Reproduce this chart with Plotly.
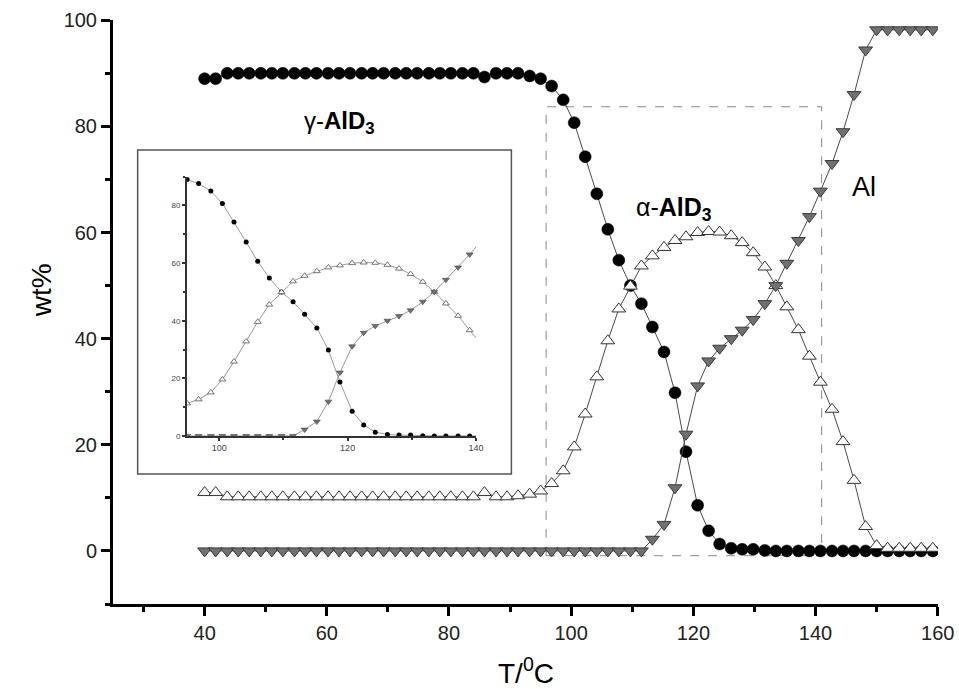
import plotly.graph_objects as go

# ---------------- data ----------------
T = [
    40.0, 41.8, 43.7, 45.5, 47.3, 49.2, 51.0, 52.8, 54.7, 56.5,
    58.3, 60.2, 62.0, 63.8, 65.7, 67.5, 69.3, 71.2, 73.0, 74.8,
    76.7, 78.5, 80.3, 82.2, 84.0, 85.8, 87.7, 89.5, 91.3, 93.2,
    95.0, 96.8, 98.7, 100.5, 102.3, 104.2, 106.0, 107.8, 109.7, 111.5,
    113.3, 115.2, 117.0, 118.8, 120.7, 122.5, 124.3, 126.2, 128.0, 129.8,
    131.7, 133.5, 135.3, 137.2, 139.0, 140.8, 142.7, 144.5, 146.3, 148.2,
    150.0, 151.8, 153.7, 155.5, 157.3, 159.2,
]

gamma_AlD3 = [
    89.0, 89.0, 90.0, 90.0, 90.0, 90.0, 90.0, 90.0, 90.0, 90.0,
    90.0, 90.0, 90.0, 90.0, 90.0, 90.0, 90.0, 90.0, 90.0, 90.0,
    90.0, 90.0, 90.0, 90.0, 90.0, 89.3, 90.0, 90.0, 90.0, 89.5,
    89.0, 87.6, 85.0, 80.7, 74.3, 67.3, 60.6, 54.8, 50.0, 46.6,
    42.2, 37.5, 29.8, 18.7, 8.6, 3.8, 1.3, 0.5, 0.3, 0.3,
    0.1, 0.0, 0.0, 0.0, 0.0, 0.0, 0.0, 0.0, 0.0, 0.0,
    0.0, 0.0, 0.0, 0.0, 0.0, 0.0,
]

alpha_AlD3 = [
    11.0, 11.0, 10.2, 10.2, 10.2, 10.2, 10.2, 10.2, 10.2, 10.2,
    10.2, 10.2, 10.2, 10.2, 10.2, 10.2, 10.2, 10.2, 10.2, 10.2,
    10.2, 10.2, 10.2, 10.2, 10.2, 11.0, 10.2, 10.2, 10.4, 10.7,
    11.3, 12.7, 15.1, 19.6, 25.8, 32.8, 39.6, 45.6, 49.9, 53.7,
    55.6, 57.2, 58.5, 59.2, 60.0, 60.2, 60.1, 59.4, 58.1, 56.2,
    53.5, 50.0, 46.0, 41.7, 36.7, 31.8, 26.7, 20.6, 13.3, 4.6,
    1.0, 0.5, 0.5, 0.5, 0.5, 0.5,
]

Al = [
    0.0, 0.0, 0.0, 0.0, 0.0, 0.0, 0.0, 0.0, 0.0, 0.0,
    0.0, 0.0, 0.0, 0.0, 0.0, 0.0, 0.0, 0.0, 0.0, 0.0,
    0.0, 0.0, 0.0, 0.0, 0.0, 0.0, 0.0, 0.0, 0.0, 0.0,
    0.0, 0.0, 0.0, 0.0, 0.0, 0.0, 0.0, 0.0, 0.0, 0.0,
    2.2, 5.0, 11.9, 22.0, 31.1, 35.8, 38.2, 40.0, 41.6, 43.6,
    46.6, 50.0, 54.2, 58.5, 63.0, 67.8, 73.0, 79.0, 86.0, 94.4,
    98.2, 98.2, 98.2, 98.2, 98.2, 98.2,
]

main_x_ticks = [40, 60, 80, 100, 120, 140, 160]
main_y_ticks = [0, 20, 40, 60, 80, 100]
inset_x_ticks = [100, 120, 140]
inset_y_ticks = [0, 20, 40, 60, 80]

FONT = "Liberation Sans, Arial, sans-serif"
LINE = "#4a4a4a"

fig = go.Figure()

# ---------------- main traces ----------------
fig.add_trace(go.Scatter(
    x=T, y=gamma_AlD3, mode="lines+markers", name="γ-AlD3",
    line=dict(color=LINE, width=1),
    marker=dict(symbol="circle", size=12, color="black",
                line=dict(color="black", width=0.5)),
))
fig.add_trace(go.Scatter(
    x=T, y=alpha_AlD3, mode="lines+markers", name="α-AlD3",
    line=dict(color=LINE, width=1),
    marker=dict(symbol="triangle-up", size=12, color="white",
                line=dict(color="#333333", width=1)),
))
fig.add_trace(go.Scatter(
    x=T, y=Al, mode="lines+markers", name="Al",
    line=dict(color=LINE, width=1),
    marker=dict(symbol="triangle-down", size=12, color="#707070",
                line=dict(color="#3a3a3a", width=1)),
))

# ---------------- inset traces ----------------
fig.add_trace(go.Scatter(
    x=T, y=gamma_AlD3, mode="lines+markers", xaxis="x2", yaxis="y2",
    line=dict(color="#9a9a9a", width=1),
    marker=dict(symbol="circle", size=5, color="black"),
))
fig.add_trace(go.Scatter(
    x=T, y=alpha_AlD3, mode="lines+markers", xaxis="x2", yaxis="y2",
    line=dict(color="#9a9a9a", width=1),
    marker=dict(symbol="triangle-up", size=6, color="white",
                line=dict(color="#555555", width=0.8)),
))
fig.add_trace(go.Scatter(
    x=T, y=Al, mode="lines+markers", xaxis="x2", yaxis="y2",
    line=dict(color="#9a9a9a", width=1),
    marker=dict(symbol="triangle-down", size=6, color="#707070",
                line=dict(color="#444444", width=0.6)),
))

main_axis = dict(
    showline=True, linecolor="black", linewidth=3,
    ticks="outside", ticklen=9, tickwidth=3, tickcolor="black",
    showgrid=False, zeroline=False, automargin=False,
    tickfont=dict(family=FONT, size=20, color="#222222"),
)

fig.update_layout(
    width=959, height=689, autosize=False,
    margin=dict(l=113, r=21, t=20, b=85),
    paper_bgcolor="white", plot_bgcolor="white",
    showlegend=False,
    font=dict(family=FONT, color="black"),
    xaxis=dict(range=[25, 160.05], tickvals=main_x_ticks,
               minor=dict(dtick=10, tick0=0, ticks="outside", ticklen=5,
                          tickwidth=3, tickcolor="black"),
               **main_axis),
    yaxis=dict(range=[-10, 100.05], tickvals=main_y_ticks,
               minor=dict(dtick=10, tick0=0, ticks="outside", ticklen=5,
                          tickwidth=3, tickcolor="black"),
               **main_axis),
    xaxis2=dict(domain=[0.0898, 0.4401], anchor="y2", range=[95, 140],
                tickvals=inset_x_ticks,
                showline=True, linecolor="#333333", linewidth=1.5,
                ticks="outside", ticklen=3, tickwidth=1.5, tickcolor="#333333",
                minor=dict(dtick=10, tick0=0, ticks="outside", ticklen=2,
                           tickcolor="#333333"),
                showgrid=False, zeroline=False,
                tickfont=dict(family=FONT, size=9, color="#444444")),
    yaxis2=dict(domain=[0.2878, 0.7317], anchor="x2", range=[0, 90],
                tickvals=inset_y_ticks,
                showline=True, linecolor="#333333", linewidth=2,
                ticks="outside", ticklen=3, tickwidth=1.5, tickcolor="#333333",
                minor=dict(dtick=10, tick0=0, ticks="outside", ticklen=2,
                           tickcolor="#333333"),
                showgrid=False, zeroline=False,
                tickfont=dict(family=FONT, size=8, color="#444444")),
)

# dashed zoom rectangle and inset frame
fig.add_shape(type="rect", xref="x", yref="y", x0=95.9, x1=141.0, y0=-0.9, y1=83.7,
              line=dict(color="#8a8a8a", width=1, dash="dash"), layer="below")
fig.add_shape(type="rect", xref="paper", yref="paper",
              x0=0.0299, x1=0.4829, y0=0.2227, y1=0.7774,
              line=dict(color="#555555", width=1.5), fillcolor="white", layer="below")

# labels
fig.add_annotation(x=55.9, y=80.7, xref="x", yref="y", xanchor="left", yanchor="middle",
                   text="γ-<b>AlD</b><sub><b>3</b></sub>", showarrow=False,
                   font=dict(family=FONT, size=24, color="black"))
fig.add_annotation(x=110.3, y=64.5, xref="x", yref="y", xanchor="left", yanchor="middle",
                   text="α-<b>AlD</b><sub><b>3</b></sub>", showarrow=False,
                   font=dict(family=FONT, size=25, color="black"))
fig.add_annotation(x=145.7, y=68.6, xref="x", yref="y", xanchor="left", yanchor="middle",
                   text="Al", showarrow=False,
                   font=dict(family=FONT, size=27, color="black"))

# axis titles
fig.add_annotation(x=-0.0857, y=0.5378, xref="paper", yref="paper",
                   xanchor="center", yanchor="middle", textangle=-90,
                   text="wt%", showarrow=False,
                   font=dict(family=FONT, size=28, color="black"))
fig.add_annotation(x=0.5, y=-0.1145, xref="paper", yref="paper",
                   xanchor="center", yanchor="middle",
                   text="T/<sup>0</sup>C", showarrow=False,
                   font=dict(family=FONT, size=28, color="black"))

fig.write_html(
    "out.html",
    config={"displayModeBar": False},
    post_script="document.body.style.margin='0px';document.body.style.overflow='hidden';",
)
